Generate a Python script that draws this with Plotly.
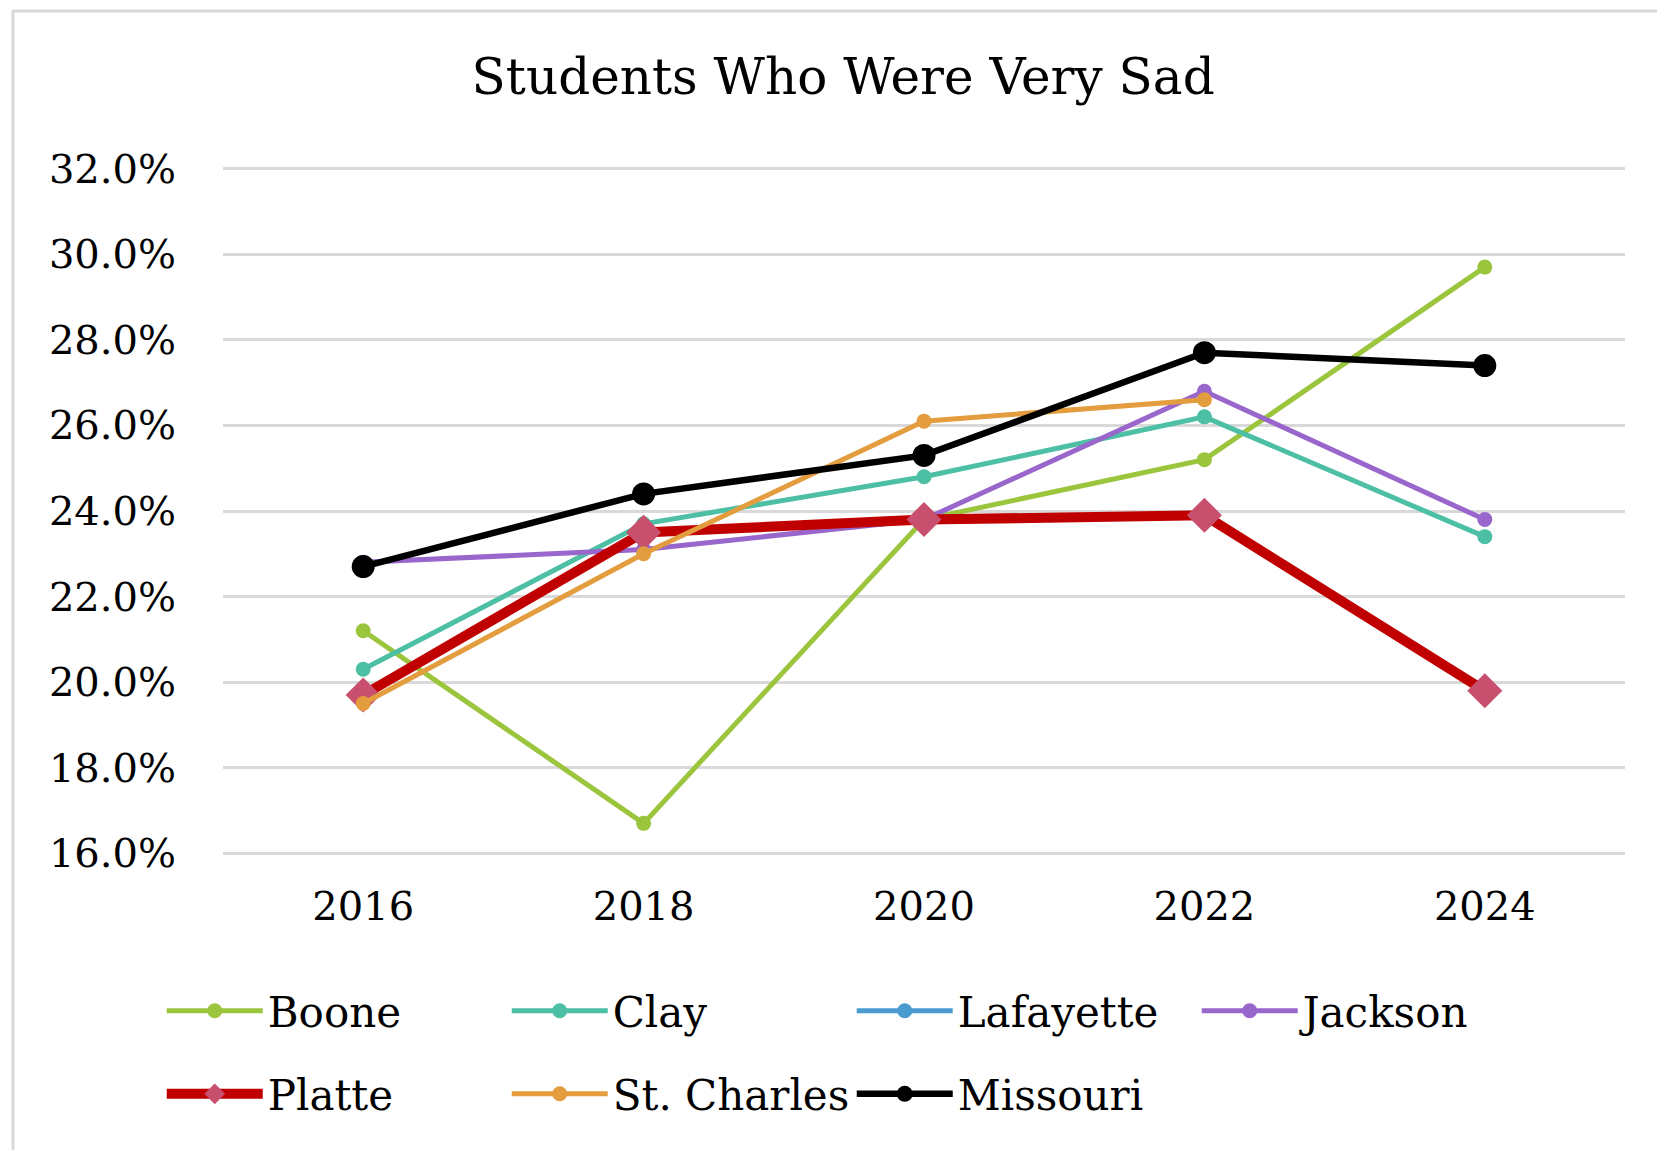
import plotly.graph_objects as go

years = ["2016", "2018", "2020", "2022", "2024"]

boone = [21.2, 16.7, 23.8, 25.2, 29.7]
clay = [20.3, 23.7, 24.8, 26.2, 23.4]
lafayette = [None, None, None, None, None]
jackson = [22.8, 23.1, 23.8, 26.8, 23.8]
platte = [19.7, 23.5, 23.8, 23.9, 19.8]
st_charles = [19.5, 23.0, 26.1, 26.6, None]
missouri = [22.7, 24.4, 25.3, 27.7, 27.4]

y_ticks = [16, 18, 20, 22, 24, 26, 28, 30, 32]

FONT = "DejaVu Serif"

fig = go.Figure()

# (name, values, line color, marker color, line width, marker symbol, marker size, legend row)
series = [
    ("Boone", boone, "#9BC53D", "#9BC53D", 5, "circle", 15, "legend"),
    ("Clay", clay, "#4CBFA4", "#4CBFA4", 5, "circle", 15, "legend"),
    ("Lafayette", lafayette, "#4A9BD0", "#4A9BD0", 5, "circle", 15, "legend"),
    ("Jackson", jackson, "#9966CC", "#9966CC", 5, "circle", 15, "legend"),
    ("Platte", platte, "#C00000", "#C8506E", 10, "diamond", 27, "legend2"),
    ("St. Charles", st_charles, "#E39D3E", "#E39D3E", 5, "circle", 15, "legend2"),
    ("Missouri", missouri, "#000000", "#000000", 6.5, "circle", 23, "legend2"),
]

for name, vals, lc, mc, lw, sym, ms, leg in series:
    fig.add_trace(go.Scatter(
        x=years,
        y=vals,
        name=name,
        mode="lines+markers",
        line=dict(color=lc, width=lw),
        marker=dict(color=mc, symbol=sym, size=ms),
        legend=leg,
    ))

legend_style = dict(
    orientation="h",
    x=-0.0437,
    xanchor="left",
    yanchor="middle",
    entrywidth=234,
    entrywidthmode="pixels",
    itemwidth=96,
    font=dict(family=FONT, size=42, color="#000000"),
    bgcolor="rgba(0,0,0,0)",
)

fig.update_layout(
    width=1657,
    height=1142,
    paper_bgcolor="white",
    plot_bgcolor="white",
    margin=dict(l=215, r=40, t=159, b=295),
    font=dict(family=FONT, color="#000000"),
    title=dict(
        text="Students Who Were Very Sad",
        font=dict(family=FONT, size=50, color="#000000"),
        x=0.504,
        xanchor="center",
        y=0.94,
        yanchor="middle",
    ),
    xaxis=dict(
        type="category",
        range=[-0.5, 4.5],
        showgrid=False,
        showline=False,
        zeroline=False,
        ticks="",
        tickfont=dict(family=FONT, size=40),
        ticklabelstandoff=24,
    ),
    yaxis=dict(
        range=[15.96, 32.04],
        tickvals=y_ticks,
        ticktext=[f"{v:.1f}%" for v in y_ticks],
        showgrid=True,
        gridcolor="#D9D9D9",
        gridwidth=3,
        showline=False,
        zeroline=False,
        ticks="",
        tickfont=dict(family=FONT, size=40),
        ticklabelstandoff=46,
    ),
    legend=dict(legend_style, y=-0.2267),
    legend2=dict(legend_style, y=-0.3474),
    showlegend=True,
    shapes=[
        dict(
            type="rect",
            xref="paper", yref="paper",
            x0=-0.1498, x1=1.2,
            y0=-0.6, y1=1.2267,
            line=dict(color="#D9D9D9", width=3),
            fillcolor="rgba(0,0,0,0)",
            layer="below",
        )
    ],
)

fig.write_html("out.html")
